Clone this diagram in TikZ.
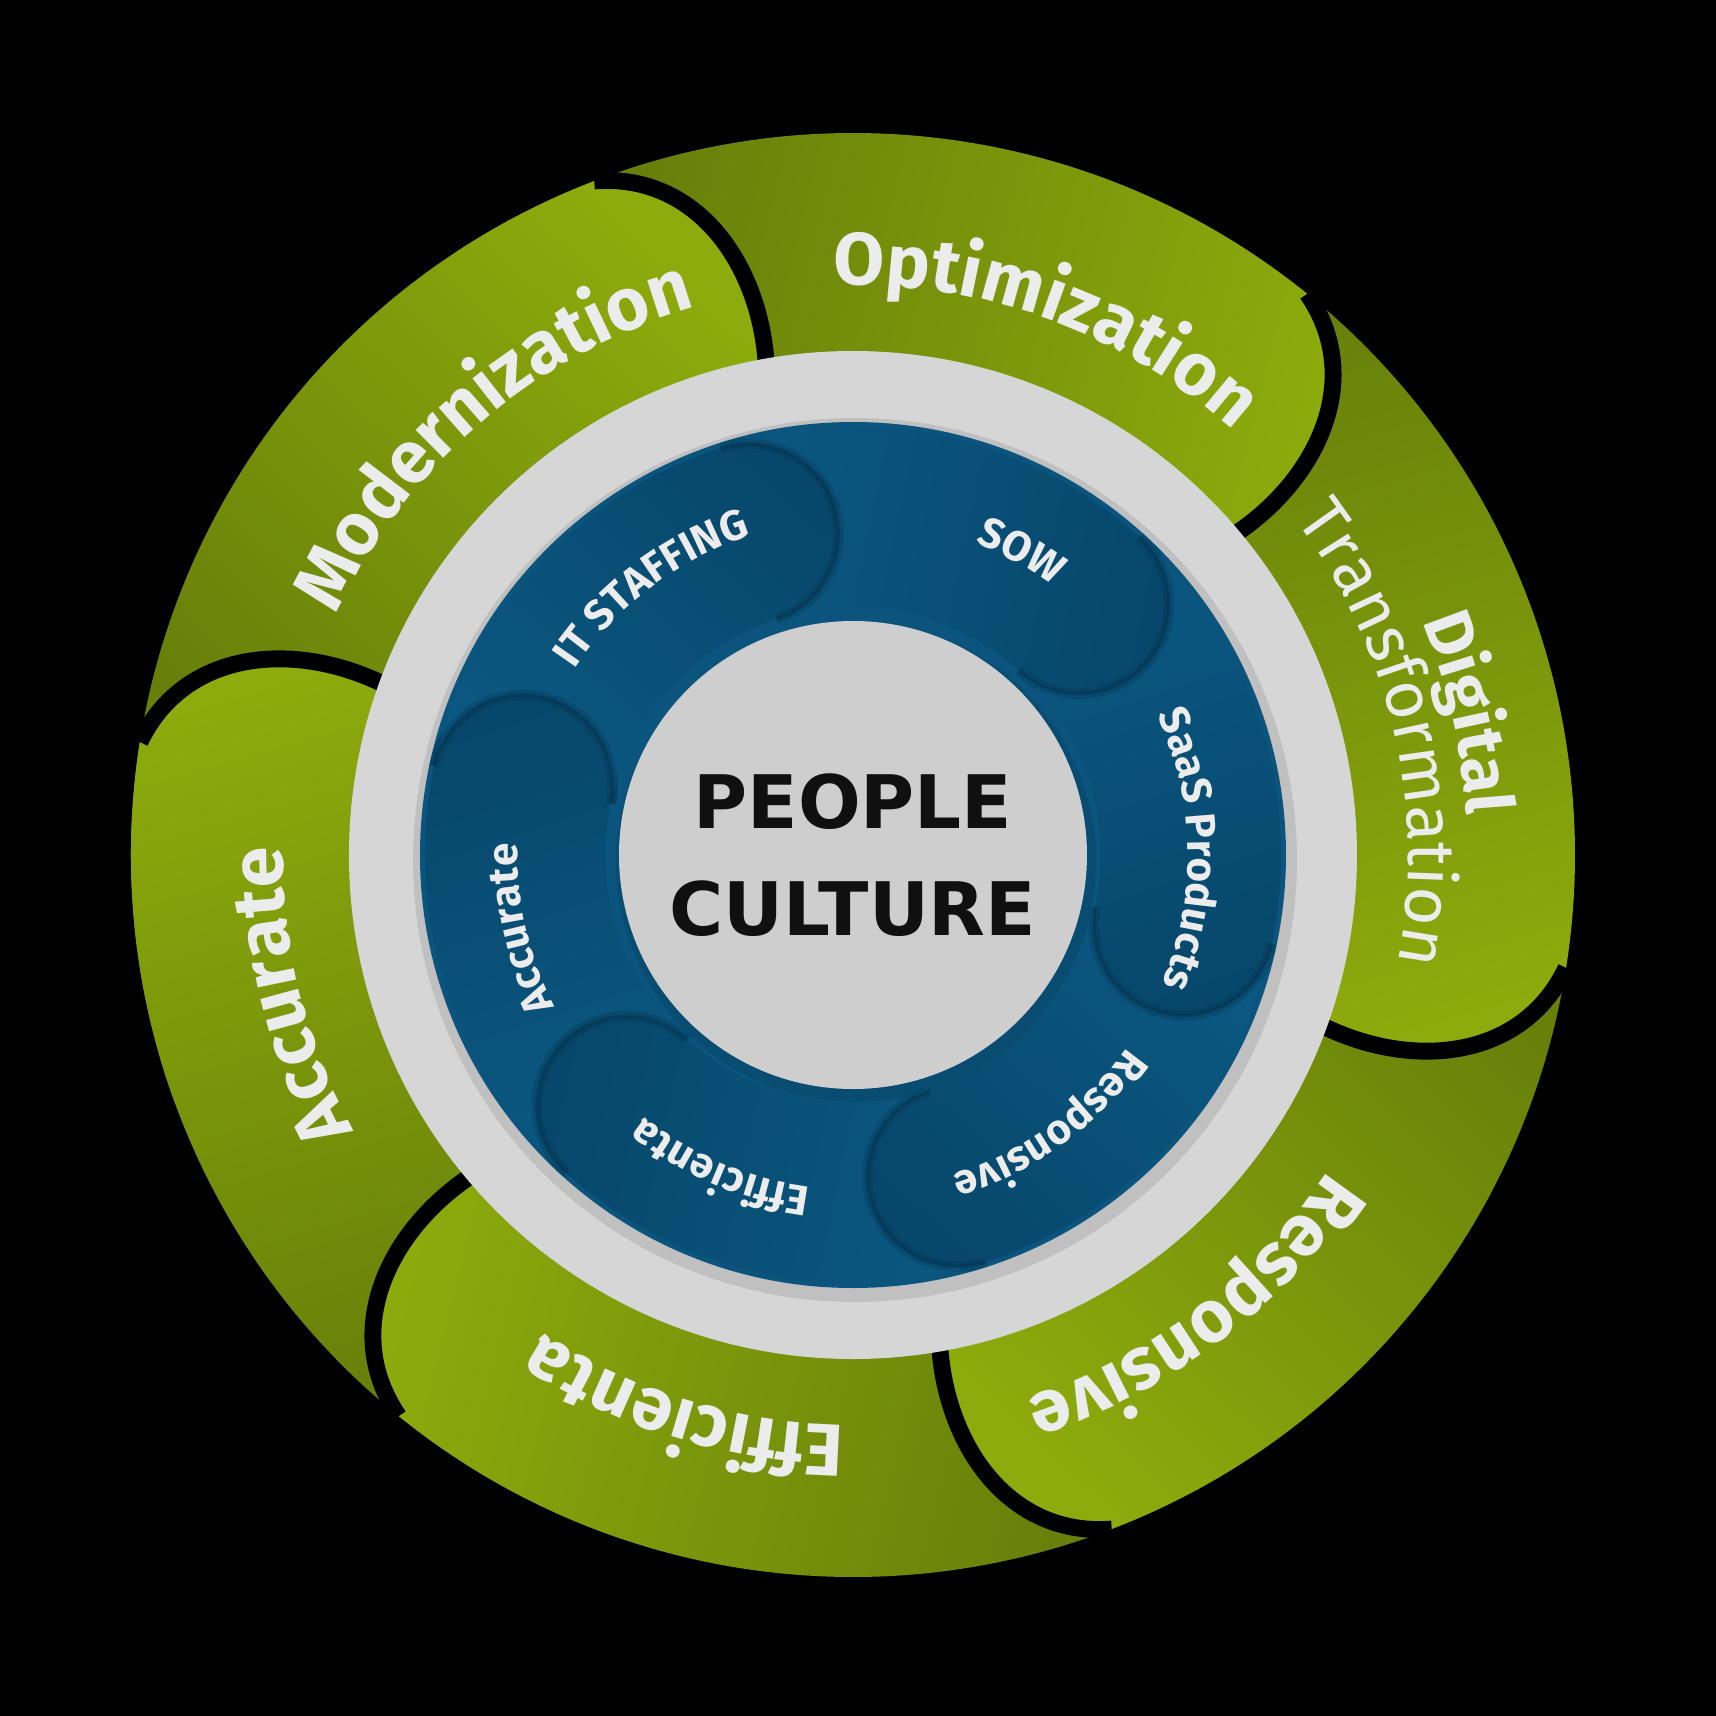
\documentclass[tikz,border=0pt]{standalone}
\usepackage{fontspec}
\setmainfont{Fira Sans}
\newfontfamily\corefamily{DejaVu Sans}
\usepackage{tikz}
\usetikzlibrary{decorations.text}
\definecolor{leafhi}{RGB}{141,171,12}
\definecolor{leaflo}{RGB}{104,128,10}
\definecolor{ringgray}{RGB}{214,214,214}
\definecolor{coregray}{RGB}{206,206,206}
\definecolor{dblue}{RGB}{10,84,125}
\definecolor{dbluehi}{RGB}{11,88,130}
\definecolor{dbluelo}{RGB}{7,71,107}
\definecolor{lbltext}{RGB}{236,236,236}
\definecolor{coretext}{RGB}{16,16,16}
\newcommand{\Rout}{7.22}
\newcommand{\Rin}{4.6}
\newcommand{\bubOut}{4.28}
\newcommand{\bubIn}{2.48}
\newcommand{\bubHalf}{0.9}
\newcommand{\outerfont}{\fontsize{21pt}{25pt}\selectfont\bfseries}
\newcommand{\digfont}{\fontsize{19pt}{22pt}\selectfont\bfseries}
\newcommand{\transfont}{\fontsize{19pt}{22pt}\selectfont}
\newcommand{\innerfont}{\fontsize{12pt}{14pt}\selectfont\bfseries}
\newcommand{\leafpath}[1]{({#1+60}:\Rout) arc[start angle={#1+60}, end angle={#1}, radius=\Rout]
  .. controls ({#1-8}:7.0) and ({#1-12}:6.0) .. ({#1-11}:5.0) -- ({#1-11}:\Rin)
  arc[start angle={#1-11}, end angle={#1+66}, radius=\Rin] -- cycle}
\newcommand{\leafrim}[1]{({#1}:\Rout) .. controls ({#1-8}:7.0) and ({#1-12}:6.0) .. ({#1-11}:5.0) -- ({#1-11}:\Rin)}
\newcommand{\bubpath}[1]{({#1+62}:\bubOut) arc[start angle={#1+62}, end angle={#1}, radius=\bubOut]
  arc[start angle={#1}, end angle={#1-180}, radius=\bubHalf]
  arc[start angle={#1}, end angle={#1+62}, radius=\bubIn] -- cycle}
\newcommand{\bubrim}[1]{({#1}:\bubOut) arc[start angle={#1}, end angle={#1-180}, radius=\bubHalf]}
\newcommand{\arclabel}[5]{\path[decorate, decoration={text along path, text align=center,
    text color=lbltext, text={|#1|#5}}]
  ({#2+#3}:#4) arc[start angle={#2+#3}, end angle={#2-#3}, radius=#4];}
\tikzset{
  leaf/.style    ={top color=leafhi, bottom color=leaflo},
  rim/.style     ={draw=black, line width=4.8pt},
  bub/.style     ={top color=dbluehi, bottom color=dbluelo},
  bubedge/.style ={draw=dbluelo!50!black, line width=3pt, opacity=.18},
  bubedge2/.style={draw=dbluelo!50!black, line width=1pt, opacity=.25},
  core/.style    ={circle, fill=coregray, minimum size=4.68cm, inner sep=0pt,
                   align=center, text=coretext,
                   font=\corefamily\fontsize{21pt}{30.5pt}\selectfont\bfseries}
}
\begin{document}
\begin{tikzpicture}
\useasboundingbox (-8.53,-8.61) rectangle (8.63,8.55);
\fill[black] (-8.53,-8.61) rectangle (8.63,8.55);

\foreach \a in {171,-129,-69,-9,51,111}{
  \pgfmathsetmacro\sa{\a-155}
  \path[leaf, shading angle=\sa] \leafpath{\a};
  \draw[rim] \leafrim{\a};
}
\begin{scope}
  \clip (0,0) -- (140:8) arc[start angle=140, end angle=200, radius=8] -- cycle;
  \path[leaf, shading angle=16] \leafpath{171};
  \draw[rim] \leafrim{171};
\end{scope}

\fill[ringgray] (0,0) circle (5.04);
\fill[black, opacity=.10] (0.02,-0.05) circle (4.42);
\fill[dblue] (0,0) circle (4.33);

\foreach \b in {168,-132,-72,-12,48,108}{
  \pgfmathsetmacro\sb{\b+30}
  \path[bub, shading angle=\sb] \bubpath{\b};
  \draw[bubedge] \bubrim{\b};
  \draw[bubedge2] \bubrim{\b};
}
\begin{scope}
  \clip (0,0) -- (145:5) arc[start angle=145, end angle=185, radius=5] -- cycle;
  \path[bub, shading angle=198] \bubpath{168};
  \draw[bubedge] \bubrim{168};
  \draw[bubedge2] \bubrim{168};
\end{scope}

\fill[dbluelo, opacity=.6] (0.03,-0.07) circle (2.40);
\node[core] (people) at (0,0) {PEOPLE\\CULTURE};

\arclabel{\outerfont}{130.5}{60}{5.70}{Modernization}
\arclabel{\outerfont}{70}{60}{5.70}{Optimization}
\arclabel{\digfont}{13}{60}{6.15}{Digital}
\arclabel{\transfont}{13}{60}{5.55}{Transformation}
\arclabel{\outerfont}{-53}{60}{5.70}{Responsive}
\arclabel{\outerfont}{-107}{60}{5.70}{Efficienta}
\arclabel{\outerfont}{-166}{60}{5.70}{Accurate}

\arclabel{\innerfont}{127}{60}{3.35}{IT STAFFING}
\arclabel{\innerfont}{61}{60}{3.35}{SOW}
\arclabel{\innerfont}{1}{60}{3.35}{SaaS Products}
\arclabel{\innerfont}{-54}{60}{3.35}{Responsive}
\arclabel{\innerfont}{-113}{60}{3.35}{Efficienta}
\arclabel{\innerfont}{-167.5}{60}{3.35}{Accurate}
\end{tikzpicture}
\end{document}
